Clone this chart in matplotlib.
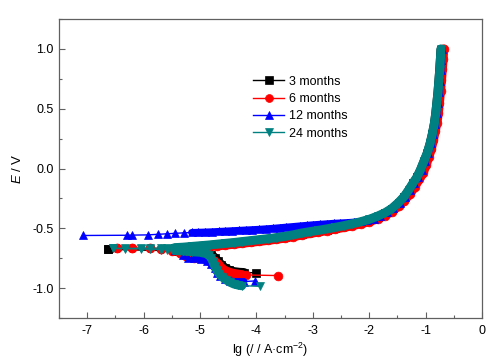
import numpy as np
import matplotlib
matplotlib.use("Agg")
import matplotlib.pyplot as plt

plt.rcParams['font.family'] = ['Liberation Sans', 'DejaVu Sans']
plt.rcParams['mathtext.fontset'] = 'custom'
plt.rcParams['mathtext.rm'] = 'Liberation Sans'
plt.rcParams['mathtext.it'] = 'Liberation Sans:italic'
plt.rcParams['axes.unicode_minus'] = False

labels = ['3 months', '6 months', '12 months', '24 months']

# 3 months
m3_cat_x = [-6.63, -5.45, -5.20, -5.00, -4.88, -4.80, -4.74, -4.68,
            -4.62, -4.56, -4.48, -4.40, -4.30, -4.22, -4.01]
m3_cat_y = [-0.676, -0.688, -0.694, -0.700, -0.705, -0.720, -0.745,
            -0.775, -0.805, -0.830, -0.850, -0.862, -0.868, -0.870, -0.872]
m3_an_x = [-6.63, -5.45, -5.30, -5.15, -5.00, -4.85, -4.70, -4.55, -4.40,
           -4.25, -4.10, -3.95, -3.80, -3.65, -3.50, -3.35, -3.20, -3.05, -2.90, -2.75, -2.60,
           -2.45, -2.30, -2.15, -2.00, -1.85, -1.72, -1.60, -1.48, -1.38, -1.30, -1.22, -1.15,
           -1.09, -1.03, -0.97, -0.92, -0.88, -0.845, -0.82, -0.80, -0.78, -0.765, -0.75,
           -0.738, -0.727]
m3_an_y = [-0.676, -0.667, -0.663, -0.657, -0.651, -0.645, -0.638,
           -0.631, -0.624, -0.616, -0.608, -0.600, -0.592, -0.583, -0.573, -0.560, -0.545,
           -0.533, -0.522, -0.510, -0.497, -0.483, -0.467, -0.450, -0.430, -0.403, -0.375,
           -0.340, -0.290, -0.240, -0.185, -0.125, -0.075, -0.015, 0.055, 0.125, 0.205,
           0.285, 0.370, 0.455, 0.545, 0.635, 0.725, 0.815, 0.905, 0.995]

# 6 months
m6_cat_x = [-6.47, -6.20, -5.88, -5.70, -5.50, -5.35, -5.25, -5.10, -4.96, -4.85, -4.75,
            -4.68, -4.62, -4.55, -4.45, -4.35, -4.25, -4.19, -3.62]
m6_cat_y = [-0.662, -0.665, -0.668, -0.672, -0.690, -0.710, -0.735, -0.745, -0.750, -0.755,
            -0.770, -0.800, -0.830, -0.855, -0.872, -0.882, -0.888, -0.890, -0.895]
m6_an_x = [-6.47, -6.20, -5.88, -5.70, -5.50, -5.30, -5.15, -5.00, -4.85, -4.70, -4.55, -4.40,
           -4.25, -4.10, -3.95, -3.80, -3.65, -3.50, -3.35, -3.20, -3.05, -2.90, -2.75, -2.60,
           -2.45, -2.30, -2.15, -2.00, -1.85, -1.72, -1.60, -1.48, -1.38, -1.28, -1.19, -1.11,
           -1.045, -0.99, -0.94, -0.90, -0.86, -0.83, -0.80, -0.775, -0.755, -0.735, -0.718,
           -0.703, -0.69, -0.678]
m6_an_y = [-0.662, -0.665, -0.668, -0.670, -0.671, -0.670, -0.666, -0.660, -0.654, -0.647,
           -0.640, -0.633, -0.625, -0.617, -0.609, -0.601, -0.592, -0.582, -0.570, -0.556,
           -0.543, -0.531, -0.519, -0.506, -0.493, -0.478, -0.462, -0.444, -0.420, -0.393,
           -0.360, -0.315, -0.270, -0.215, -0.152, -0.088, -0.040, 0.030, 0.100, 0.160,
           0.240, 0.310, 0.380, 0.460, 0.550, 0.650, 0.740, 0.830, 0.915, 1.000]

# 12 months
m12_cat_x = [-5.45, -5.30, -5.22, -5.10, -4.98, -4.87, -4.80, -4.74, -4.70, -4.64, -4.56,
             -4.47, -4.36, -4.22, -4.02]
m12_cat_y = [-0.680, -0.720, -0.745, -0.750, -0.755, -0.775, -0.800, -0.835, -0.870, -0.900,
             -0.925, -0.940, -0.945, -0.945, -0.940]
m12_an_x = [-7.08, -6.30, -6.21, -5.93, -5.74, -5.59, -5.44, -5.29, -5.15, -5.03, -4.91, -4.79,
            -4.67, -4.55, -4.43, -4.31, -4.19, -4.07, -3.95, -3.83, -3.71, -3.59, -3.47, -3.35,
            -3.23, -3.11, -2.99, -2.87, -2.75, -2.63, -2.51, -2.39, -2.27, -2.15, -2.03, -1.92,
            -1.80, -1.68, -1.57, -1.46, -1.36, -1.28, -1.20, -1.13, -1.07, -1.01, -0.95, -0.90,
            -0.86, -0.825, -0.80, -0.78, -0.76, -0.745, -0.73, -0.718, -0.707]
m12_an_y = [-0.560, -0.558, -0.557, -0.555, -0.550, -0.546, -0.542, -0.538, -0.535, -0.533,
            -0.531, -0.529, -0.526, -0.523, -0.520, -0.517, -0.514, -0.511, -0.508, -0.504,
            -0.500, -0.495, -0.490, -0.485, -0.480, -0.475, -0.470, -0.466, -0.462, -0.458,
            -0.455, -0.452, -0.448, -0.442, -0.432, -0.418, -0.395, -0.365, -0.330, -0.285,
            -0.235, -0.180, -0.120, -0.070, -0.010, 0.060, 0.130, 0.210, 0.290, 0.375, 0.460,
            0.550, 0.640, 0.730, 0.820, 0.910, 1.000]

# 24 months
m24_cat_x = [-6.54, -6.33, -6.04, -5.88, -5.70, -5.58, -5.45, -5.30, -5.15, -5.00, -4.90,
             -4.84, -4.80, -4.77, -4.74, -4.70, -4.66, -4.61, -4.54, -4.47, -4.40, -4.32,
             -4.26, -3.93]
m24_cat_y = [-0.668, -0.670, -0.672, -0.675, -0.678, -0.680, -0.685, -0.690, -0.695, -0.700,
             -0.710, -0.725, -0.750, -0.780, -0.815, -0.850, -0.880, -0.905, -0.930, -0.950,
             -0.965, -0.975, -0.980, -0.985]
m24_an_x = [-6.54, -6.33, -6.04, -5.88, -5.70, -5.58, -5.45, -5.30, -5.15, -5.00, -4.85, -4.70,
            -4.55, -4.40, -4.25, -4.10, -3.95, -3.80, -3.65, -3.50, -3.35, -3.20, -3.05, -2.90,
            -2.75, -2.60, -2.45, -2.30, -2.15, -2.00, -1.85, -1.72, -1.60, -1.48, -1.38, -1.30,
            -1.22, -1.15, -1.09, -1.03, -0.97, -0.92, -0.88, -0.845, -0.82, -0.80, -0.78,
            -0.765, -0.75, -0.738, -0.727]
m24_an_y = [-0.668, -0.668, -0.667, -0.666, -0.665, -0.664, -0.662, -0.658, -0.652, -0.646,
            -0.640, -0.633, -0.626, -0.619, -0.611, -0.603, -0.595, -0.587, -0.578, -0.568,
            -0.555, -0.540, -0.528, -0.517, -0.505, -0.492, -0.478, -0.462, -0.445, -0.425,
            -0.398, -0.370, -0.335, -0.285, -0.235, -0.180, -0.120, -0.070, -0.010, 0.060,
            0.130, 0.210, 0.290, 0.375, 0.460, 0.550, 0.640, 0.730, 0.820, 0.910, 1.000]

# x, y (cathodic), x, y (anodic), colour, marker, left end of the dense band, band width
series = [
    (m3_cat_x, m3_cat_y, m3_an_x, m3_an_y, 'black', 's', -5.5, 6.5),
    (m6_cat_x, m6_cat_y, m6_an_x, m6_an_y, 'red', 'o', -5.5, 6.5),
    (m12_cat_x, m12_cat_y, m12_an_x, m12_an_y, 'blue', '^', -5.2, 5.0),
    (m24_cat_x, m24_cat_y, m24_an_x, m24_an_y, '#008080', 'v', -5.5, 6.5),
]

fig = plt.figure(figsize=(4.97, 3.62), dpi=100)
ax = fig.add_axes([0.1187, 0.1215, 0.8511, 0.826])

handles = []
for (cx, cy, axx, ayy, col, mk, lo, bw), lab in zip(series, labels):
    cx, cy, axx, ayy = map(np.array, (cx, cy, axx, ayy))
    # the dense parts of the curves look like one solid band of markers
    mc = (cx > lo) & (cx < -4.2)
    ma = axx > lo
    for bx, by in ((cx[mc], cy[mc]), (axx[ma], ayy[ma])):
        ax.plot(bx, by, '-', color=col, lw=bw, solid_capstyle='round', solid_joinstyle='round')
    ax.plot(cx, cy, '-', color=col, lw=1, marker=mk, ms=6.3, mec=col, mew=0.5)
    h, = ax.plot(axx, ayy, '-', color=col, lw=1, marker=mk, ms=6.3, mec=col, mew=0.5, label=lab)
    handles.append(h)

ax.set_xlim(-7.5, 0)
ax.set_ylim(-1.24, 1.24)
ax.set_xticks(np.arange(-7, 1, 1))
ax.set_xticks(np.arange(-7.5, 0.01, 0.5), minor=True)
ax.set_yticks([-1.0, -0.5, 0.0, 0.5, 1.0])
ax.set_yticks(np.arange(-1.25, 1.26, 0.25), minor=True)
ax.set_yticklabels(['-1.0', '-0.5', '0.0', '0.5', '1.0'])
ax.set_xticklabels(['-7', '-6', '-5', '-4', '-3', '-2', '-1', '0'])
ax.tick_params(which='both', direction='in', top=False, right=False, labelsize=9,
               color='#606060')
ax.tick_params(which='major', length=4, width=0.8)
ax.tick_params(which='minor', length=2.5, width=0.8)
ax.tick_params(axis='x', pad=5)
ax.tick_params(axis='y', pad=4)
for s in ax.spines.values():
    s.set_color('#606060')
    s.set_linewidth(0.9)

ax.set_xlabel('lg (/ / A·cm$^{-2}$)', fontsize=9, labelpad=3)
ax.set_ylabel('$E$ / V', fontsize=9.5, labelpad=6)

ax.legend(handles=handles, loc='upper left', bbox_to_anchor=(0.459, 0.81), frameon=False,
          fontsize=9, handlelength=2.5, handletextpad=0.35, labelspacing=0.42,
          borderpad=0, borderaxespad=0, markerscale=0.9)

fig.savefig('out.png', dpi=100)
